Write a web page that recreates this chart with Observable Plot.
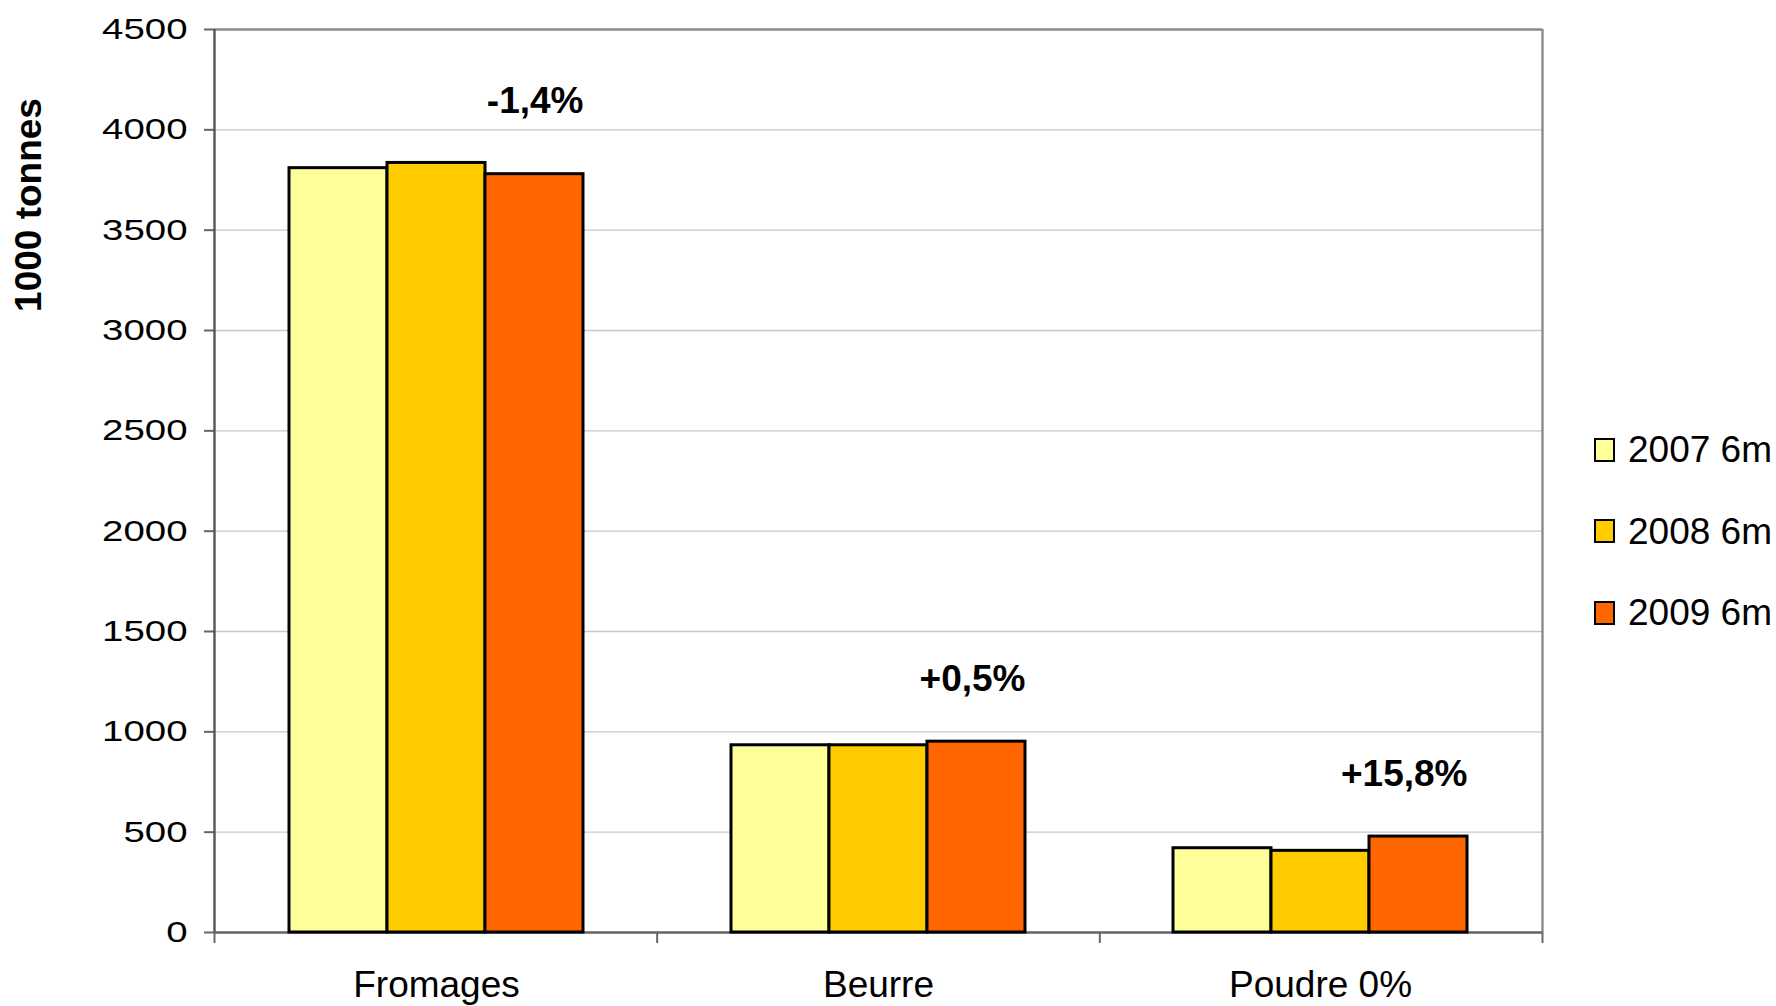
<!DOCTYPE html>
<html>
<head>
<meta charset="utf-8">
<script src="https://cdn.jsdelivr.net/npm/d3@7"></script>
<script src="https://cdn.jsdelivr.net/npm/@observablehq/plot@0.6"></script>
<style>
  html, body { margin: 0; padding: 0; background: #fff; overflow: hidden; }
  #wrap { position: relative; width: 1776px; height: 1006px; font-family: "Liberation Sans", Arial, sans-serif; }
  #wrap svg { position: absolute; left: 0; top: 0; }
  #legend { position: absolute; left: 1594px; top: 431px; }
  .item { display: flex; align-items: center; height: 37px; margin-bottom: 44.5px; font-size: 37px; line-height: 1; color: #000; }
  .sw { width: 21px; height: 24px; box-sizing: border-box; border: 2.5px solid #000; margin-right: 13px; }
</style>
</head>
<body>
<div id="wrap"></div>
<script>
// ---- data ----
const categories = ["Fromages", "Beurre", "Poudre 0%"];
const series = ["2007 6m", "2008 6m", "2009 6m"];
const values2007 = [3809, 933, 420];
const values2008 = [3835, 933, 407];
const values2009 = [3779, 951, 478];
const changeLabels = ["-1,4%", "+0,5%", "+15,8%"];
const yTicks = [0, 500, 1000, 1500, 2000, 2500, 3000, 3500, 4000, 4500];
const yTitle = "1000 tonnes";

// ---- styles ----
const seriesColors = ["#FFFF99", "#FFCC00", "#FF6600"];
const font = "'Liberation Sans', Arial, sans-serif";
const W = 1776, H = 1006;
const margins = {marginLeft: 214, marginRight: 234, marginTop: 29, marginBottom: 74};
const yDomain = [0, 4500];

const seriesValues = [values2007, values2008, values2009];
const bars = categories.flatMap((c, i) => series.map((s, j) => ({category: c, series: s, value: seriesValues[j][i]})));
const changes = categories.map((c, i) => ({
  category: c,
  label: changeLabels[i],
  top: Math.max(...seriesValues.map(v => v[i]))
}));

const wrap = document.getElementById("wrap");

// background: grid, frame, y axis, category boundary ticks
const bg = Plot.plot({
  width: W, height: H, ...margins,
  style: {fontFamily: font, background: "white", color: "#000"},
  x: {domain: [0, categories.length]},
  y: {domain: yDomain},
  marks: [
    Plot.gridY(yTicks, {stroke: "#c8c8c8", strokeOpacity: 1, strokeWidth: 1.4}),
    Plot.ruleY([yDomain[1]], {stroke: "#8c8c8c", strokeWidth: 2.4}),
    Plot.ruleX([categories.length], {stroke: "#8c8c8c", strokeWidth: 2.4}),
    Plot.axisX(d3.range(categories.length + 1), {tickSize: 11, stroke: "#666", strokeWidth: 2, tickFormat: () => "", label: null}),
    Plot.axisY(yTicks, {tickSize: 10, tickPadding: 17, fontSize: 30, stroke: "#666", strokeWidth: 2, tickFormat: "d", label: null}),
    Plot.ruleX([0], {stroke: "#555", strokeWidth: 2.4}),
    Plot.ruleY([0], {stroke: "#666", strokeWidth: 2.6})
  ]
});
// widen the y tick labels horizontally like the original
d3.select(bg).selectAll('g[aria-label="y-axis tick label"] text').each(function () {
  const t = this.getAttribute("transform");
  if (t) this.setAttribute("transform", t + " scale(1.28,1)");
});
d3.select(bg).append("text")
  .attr("transform", "translate(41,205) rotate(-90)")
  .attr("text-anchor", "middle")
  .attr("font-size", 37)
  .attr("font-weight", "bold")
  .attr("fill", "#000")
  .text(yTitle);
wrap.appendChild(bg);

// foreground: grouped bars
const fg = Plot.plot({
  width: W, height: H, ...margins,
  style: {fontFamily: font, background: "transparent", color: "#000"},
  fx: {domain: categories, padding: 0},
  x: {domain: series, paddingInner: 0, paddingOuter: 0.7536, axis: null},
  y: {domain: yDomain, axis: null},
  color: {domain: series, range: seriesColors},
  marks: [
    Plot.barY(bars, {fx: "category", x: "series", y: "value", fill: "series", stroke: "#000", strokeWidth: 3}),
    Plot.text(changes, {fx: "category", x: () => series[2], y: d => d.top + 300, text: "label", textAnchor: "end", dx: 49, dy: -2, fontSize: 37, fontWeight: "bold", fill: "#000"}),
    Plot.axisFx({anchor: "bottom", tickSize: 0, tickPadding: 38, fontSize: 37, label: null})
  ]
});
wrap.appendChild(fg);

// legend
const legend = document.createElement("div");
legend.id = "legend";
series.forEach((s, j) => {
  const item = document.createElement("div");
  item.className = "item";
  const sw = document.createElement("span");
  sw.className = "sw";
  sw.style.background = seriesColors[j];
  const lab = document.createElement("span");
  lab.textContent = s;
  item.appendChild(sw);
  item.appendChild(lab);
  legend.appendChild(item);
});
wrap.appendChild(legend);
</script>
</body>
</html>
